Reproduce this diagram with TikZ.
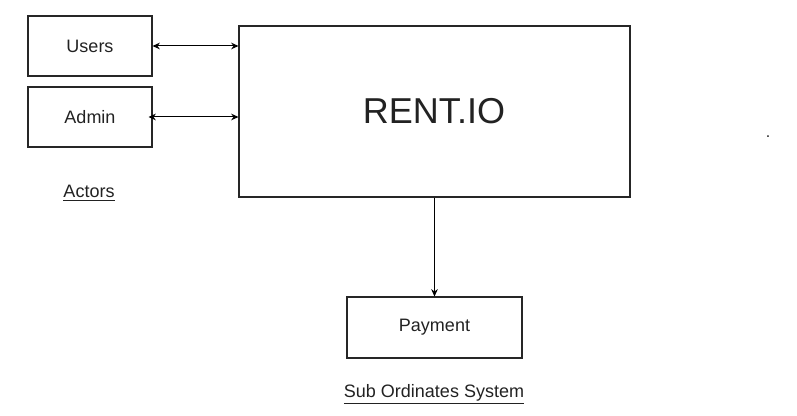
\documentclass[tikz,border=0pt]{standalone}
\usepackage{fontspec}
\setmainfont{Liberation Sans}
\usetikzlibrary{arrows.meta}
\definecolor{txt}{HTML}{222222}
\tikzset{
  box/.style={draw=black!85, line width=0.8pt, rectangle, inner sep=0pt, text=txt, font=\fontsize{13.5pt}{16pt}\selectfont},
  lbl/.style={inner sep=0pt, text=txt, font=\fontsize{13.5pt}{16pt}\selectfont},
  conn/.style={draw=black, line width=0.75pt},
  tip/.style={-{Stealth[length=5.5pt,width=5pt]}},
  tips/.style={{Stealth[length=5.5pt,width=5pt]}-{Stealth[length=5.5pt,width=5pt]}}
}
\begin{document}
\begin{tikzpicture}[x=0.75pt,y=-0.75pt]
\useasboundingbox (0,0) rectangle (797,416);
\node[box, minimum width=124*0.75pt, minimum height=60*0.75pt] (users) at (90,46) {Users};
\node[box, minimum width=124*0.75pt, minimum height=60*0.75pt] (admin) at (90,117) {Admin};
\node[box, minimum width=391*0.75pt, minimum height=171*0.75pt, font=\fontsize{27pt}{32pt}\selectfont] (rent) at (434.5,111.5) {};
\node[lbl, font=\fontsize{27pt}{32pt}\selectfont, anchor=base] (renttxt) at (434,124) {RENT.IO};
\node[box, minimum width=175*0.75pt, minimum height=61*0.75pt] (pay) at (434.5,327.5) {Payment};
\node[lbl, anchor=base] (actors) at (89,198) {\underline{Actors}};
\node[lbl, anchor=base] (sub) at (434,398) {\underline{Sub Ordinates System}};
\node[lbl, font=\fontsize{12pt}{14pt}\selectfont, anchor=base] (dot) at (768,138) {.};
\draw[conn, tips] (users.east) -- (users.east -| rent.west);
\draw[conn, tips] ([xshift=-4*0.75pt]admin.east) -- (admin.east -| rent.west);
\draw[conn, tip] (rent.south -| pay.north) -- (pay.north);
\end{tikzpicture}
\end{document}
